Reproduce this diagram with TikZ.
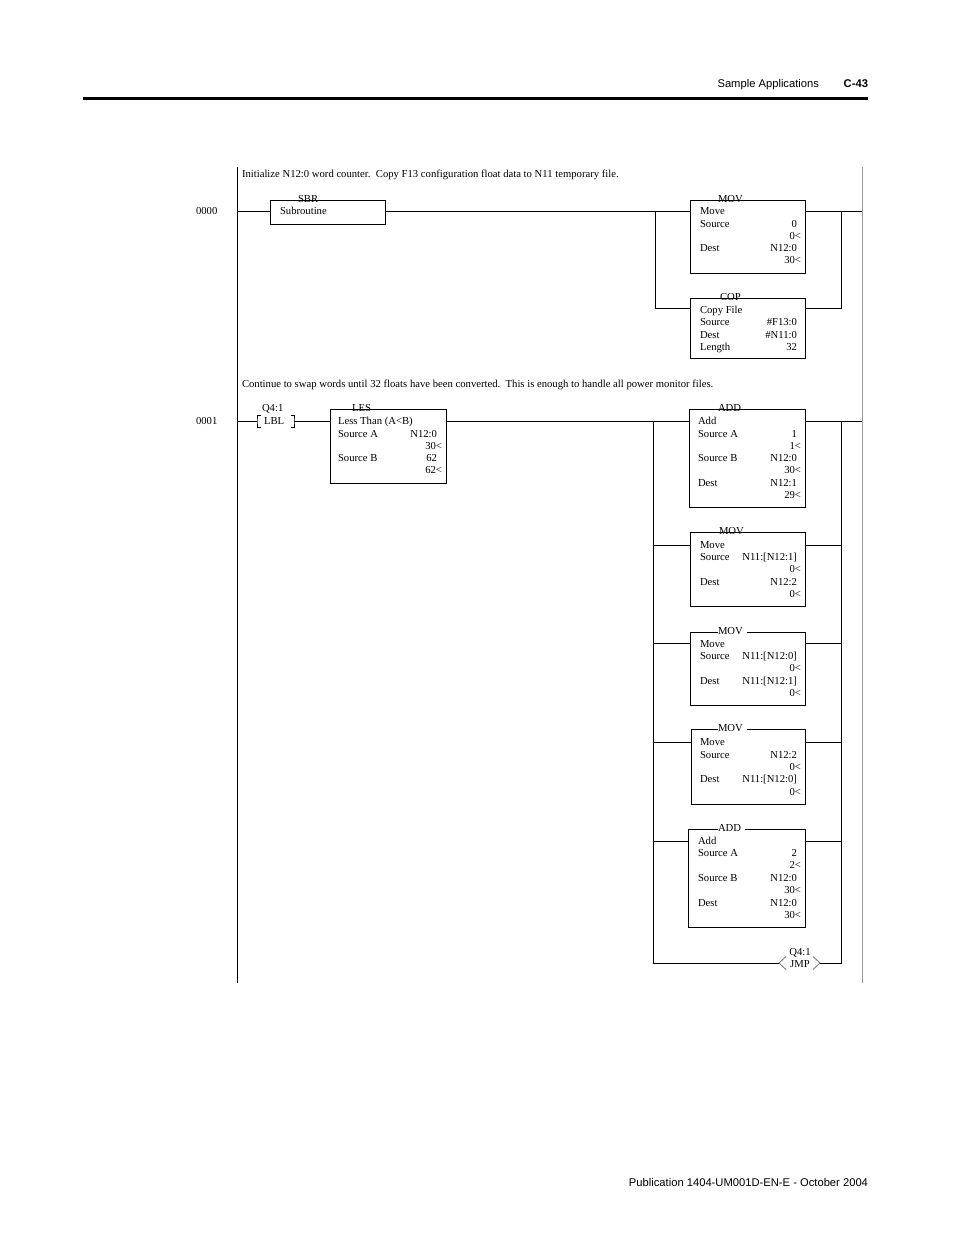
\documentclass[tikz,border=0pt]{standalone}
\usepackage{fontspec}
\setmainfont{Liberation Serif}
\newfontfamily\hdrfont{Liberation Sans}
\usetikzlibrary{calc}
\newcounter{tnode}
\newcommand\txL[3]{\stepcounter{tnode}\node[txt,anchor=base west] (tx\arabic{tnode}) at (#1,{#2+4.2}) {#3};}
\newcommand\txR[3]{\stepcounter{tnode}\node[txt,anchor=base east] (tx\arabic{tnode}) at (#1,{#2+4.2}) {#3};}
\tikzset{
  txt/.style={inner sep=0pt,outer sep=0pt,font=\fontsize{8}{9.5}\selectfont},
  hdr/.style={inner sep=0pt,outer sep=0pt,font=\hdrfont\fontsize{8.4}{10}\selectfont},
  ibox/.style={draw,inner sep=0pt,outer sep=0pt,anchor=north west,line width=0.75pt},
  obox/.style={inner sep=0pt,outer sep=0pt,anchor=north west},
  wire/.style={line width=0.75pt},
  grayrail/.style={line width=0.75pt,draw=black!40},
  jmpbr/.style={line width=0.6pt,draw=black!55},
}
\begin{document}
\begin{tikzpicture}[x=0.75pt,y=-0.75pt]
\useasboundingbox (0,0) rectangle (954,1235);

% ---------- header / footer ----------
\node[hdr,anchor=base east] (hdrtitle) at (819,87) {Sample Applications};
\node[hdr,anchor=base east,font=\hdrfont\bfseries\fontsize{8.4}{10}\selectfont] (hdrpage) at (868,87) {C-43};
\coordinate (ruleL) at (83,98.3);
\coordinate (ruleR) at (868,98.3);
\draw[line width=2.3pt] (ruleL) -- (ruleR);
\node[hdr,anchor=base east] (footer) at (868,1186) {Publication 1404-UM001D-EN-E - October 2004};

% ---------- rails ----------
\coordinate (railLt) at (237,167);
\coordinate (railLb) at (237,983);
\coordinate (railRt) at (862,167);
\coordinate (railRb) at (862,983);
\draw[wire] (railLt) -- (railLb);
\draw[grayrail] (railRt) -- (railRb);

% ---------- rung 0000 ----------
\node[txt,anchor=base west] (cmt0) at (242,177.2) {Initialize N12:0 word counter.\ \ Copy F13 configuration float data to N11 temporary file.};
\node[txt,anchor=base west] (num0) at (196,214.2) {0000};

\node[ibox,minimum width={115*0.75pt},minimum height={24*0.75pt}] (sbr) at (270,200) {};
\node[txt,anchor=base west] (sbrlbl) at (298,202) {SBR};
\txL{280}{210}{Subroutine}

\node[ibox,minimum width={115*0.75pt},minimum height={73*0.75pt}] (mov1) at (690,200) {};
\node[txt,anchor=base west] (mov1lbl) at (718,202) {MOV};
\txL{700}{210}{Move}
\txL{700}{223}{Source}\txR{797}{223}{0}
\txR{801}{235}{0<}
\txL{700}{247}{Dest}\txR{797}{247}{N12:0}
\txR{801}{259}{30<}

\node[ibox,minimum width={115*0.75pt},minimum height={60*0.75pt}] (cop) at (690,298) {};
\node[txt,anchor=base west] (coplbl) at (720,300) {COP};
\txL{700}{309}{Copy File}
\txL{700}{321}{Source}\txR{797}{321}{\#F13:0}
\txL{700}{334}{Dest}\txR{797}{334}{\#N11:0}
\txL{700}{346}{Length}\txR{797}{346}{32}

\coordinate (r0L) at (237,211);
\coordinate (r0R) at (862,211);
\coordinate (b0L) at (655,211);
\coordinate (b0R) at (841,211);
\coordinate (sbrin) at ($(sbr.north west)+(0,11)$);
\coordinate (sbrout) at ($(sbr.north east)+(0,11)$);
\coordinate (mov1in) at ($(mov1.north west)+(0,11)$);
\coordinate (mov1out) at ($(mov1.north east)+(0,11)$);
\coordinate (copin) at ($(cop.north west)+(0,10)$);
\coordinate (copout) at ($(cop.north east)+(0,10)$);
\draw[wire] (r0L) -- (sbrin);
\draw[wire] (sbrout) -- (mov1in);
\draw[wire] (mov1out) -- (r0R);
\draw[wire] (b0L) |- (copin);
\draw[wire] (copout) -| (b0R);

% ---------- rung 0001 ----------
\node[txt,anchor=base west] (cmt1) at (242,387.2) {Continue to swap words until 32 floats have been converted.\ \ This is enough to handle all power monitor files.};
\node[txt,anchor=base west] (num1) at (196,424.2) {0001};

% LBL instruction
\coordinate (lblL) at (257,421);
\coordinate (lblR) at (294,421);
\draw[wire] (260.5,415) -- (257,415) -- (lblL) -- (257,427) -- (260.5,427);
\draw[wire] (290.5,415) -- (294,415) -- (lblR) -- (294,427) -- (290.5,427);
\node[txt,anchor=base west] (lblq) at (262,411.2) {Q4:1};
\node[txt,anchor=base west] (lbltx) at (264,424.2) {LBL};

% LES
\node[ibox,minimum width={116*0.75pt},minimum height={74*0.75pt}] (les) at (330,409) {};
\node[txt,anchor=base west] (leslbl) at (352,411) {LES};
\txL{338}{420}{Less Than (A<B)}
\txL{338}{433}{Source A}\txR{437}{433}{N12:0}
\txR{442}{445}{30<}
\txL{338}{457}{Source B}\txR{437}{457}{62}
\txR{442}{469}{62<}

% ADD 1
\node[ibox,minimum width={116*0.75pt},minimum height={98*0.75pt}] (add1) at (689,409) {};
\node[txt,anchor=base west] (add1lbl) at (718,411) {ADD};
\txL{698}{420}{Add}
\txL{698}{433}{Source A}\txR{797}{433}{1}
\txR{801}{445}{1<}
\txL{698}{457}{Source B}\txR{797}{457}{N12:0}
\txR{801}{469}{30<}
\txL{698}{482}{Dest}\txR{797}{482}{N12:1}
\txR{801}{494}{29<}

% MOV 2
\node[ibox,minimum width={115*0.75pt},minimum height={74*0.75pt}] (mov2) at (690,532) {};
\node[txt,anchor=base west] (mov2lbl) at (719,534) {MOV};
\txL{700}{544}{Move}
\txL{700}{556}{Source}\txR{797}{556}{N11:[N12:1]}
\txR{801}{568}{0<}
\txL{700}{581}{Dest}\txR{797}{581}{N12:2}
\txR{801}{593}{0<}

% MOV 3 (top line with gap after label)
\node[obox,minimum width={115*0.75pt},minimum height={73*0.75pt}] (mov3) at (690,632) {};
\node[txt,anchor=base west] (mov3lbl) at (718,634) {MOV};
\draw[wire] (mov3lbl.base west |- mov3.north) -- (mov3.north west) -- (mov3.south west) -- (mov3.south east) -- (mov3.north east) -- ($(mov3lbl.base east |- mov3.north)+(4,0)$);
\txL{700}{643}{Move}
\txL{700}{655}{Source}\txR{797}{655}{N11:[N12:0]}
\txR{801}{667}{0<}
\txL{700}{680}{Dest}\txR{797}{680}{N11:[N12:1]}
\txR{801}{692}{0<}

% MOV 4
\node[obox,minimum width={114*0.75pt},minimum height={75*0.75pt}] (mov4) at (691,729) {};
\node[txt,anchor=base west] (mov4lbl) at (718,731) {MOV};
\draw[wire] (mov4lbl.base west |- mov4.north) -- (mov4.north west) -- (mov4.south west) -- (mov4.south east) -- (mov4.north east) -- ($(mov4lbl.base east |- mov4.north)+(4,0)$);
\txL{700}{741}{Move}
\txL{700}{754}{Source}\txR{797}{754}{N12:2}
\txR{801}{766}{0<}
\txL{700}{778}{Dest}\txR{797}{778}{N11:[N12:0]}
\txR{801}{791}{0<}

% ADD 2
\node[obox,minimum width={117*0.75pt},minimum height={98*0.75pt}] (add2) at (688,829) {};
\node[txt,anchor=base west] (add2lbl) at (718,831) {ADD};
\draw[wire] (add2lbl.base west |- add2.north) -- (add2.north west) -- (add2.south west) -- (add2.south east) -- (add2.north east) -- ($(add2lbl.base east |- add2.north)+(4,0)$);
\txL{698}{840}{Add}
\txL{698}{852}{Source A}\txR{797}{852}{2}
\txR{801}{864}{2<}
\txL{698}{877}{Source B}\txR{797}{877}{N12:0}
\txR{801}{889}{30<}
\txL{698}{902}{Dest}\txR{797}{902}{N12:0}
\txR{801}{914}{30<}

% JMP
\coordinate (jmpL) at (779,963);
\coordinate (jmpR) at (820,963);
\draw[jmpbr] (786,956.5) -- (jmpL) -- (786,969.5);
\draw[jmpbr] (813,956.5) -- (jmpR) -- (813,969.5);
\node[txt,anchor=base] (jmpq) at (800,955.2) {Q4:1};
\node[txt,anchor=base] (jmptx) at (800,967.2) {JMP};

% rung 0001 wiring
\coordinate (r1L) at (237,421);
\coordinate (r1R) at (862,421);
\coordinate (b1L) at (653,421);
\coordinate (b1R) at (841,421);
\coordinate (b1Lb) at (653,963);
\coordinate (b1Rb) at (841,963);
\coordinate (lesin) at ($(les.north west)+(0,12)$);
\coordinate (lesout) at ($(les.north east)+(0,12)$);
\coordinate (add1in) at ($(add1.north west)+(0,12)$);
\coordinate (add1out) at ($(add1.north east)+(0,12)$);
\coordinate (mov2in) at ($(mov2.north west)+(0,13)$);
\coordinate (mov2out) at ($(mov2.north east)+(0,13)$);
\coordinate (mov3in) at ($(mov3.north west)+(0,11)$);
\coordinate (mov3out) at ($(mov3.north east)+(0,11)$);
\coordinate (mov4in) at ($(mov4.north west)+(0,13)$);
\coordinate (mov4out) at ($(mov4.north east)+(0,13)$);
\coordinate (add2in) at ($(add2.north west)+(0,12)$);
\coordinate (add2out) at ($(add2.north east)+(0,12)$);

\draw[wire] (r1L) -- (lblL);
\draw[wire] (lblR) -- (lesin);
\draw[wire] (lesout) -- (add1in);
\draw[wire] (add1out) -- (r1R);
\draw[wire] (b1L) -- (b1Lb) -- (jmpL);
\draw[wire] (jmpR) -- (b1Rb) -- (b1R);
\foreach \b in {mov2,mov3,mov4,add2}{
  \draw[wire] (b1L |- \b in) -- (\b in);
  \draw[wire] (\b out) -- (b1R |- \b out);
}
\end{tikzpicture}
\end{document}
